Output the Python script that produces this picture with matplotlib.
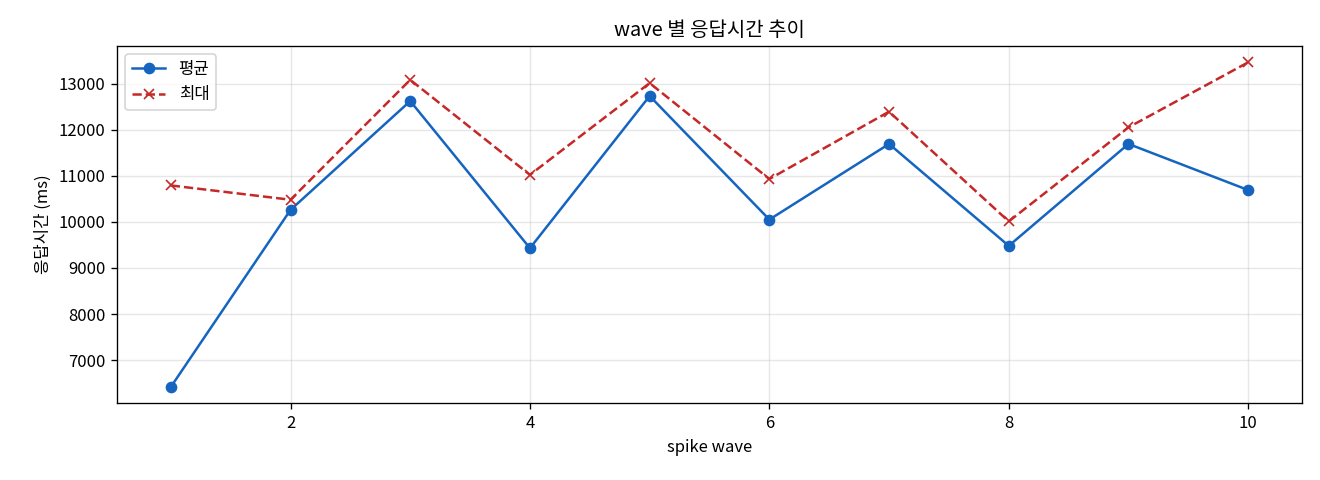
import matplotlib
matplotlib.use('Agg')
import matplotlib.pyplot as plt

plt.rcParams['font.family'] = ['Noto Sans CJK KR', 'DejaVu Sans']
plt.rcParams['axes.unicode_minus'] = False

waves = [1, 2, 3, 4, 5, 6, 7, 8, 9, 10]
avg_ms = [6420, 10260, 12620, 9430, 12730, 10050, 11690, 9480, 11690, 10690]
max_ms = [10790, 10480, 13080, 11020, 13010, 10930, 12390, 10010, 12050, 13460]

fig, ax = plt.subplots(figsize=(11, 4), dpi=120)
ax.plot(waves, avg_ms, marker='o', color='#1565C0', label='평균')
ax.plot(waves, max_ms, marker='x', linestyle='--', color='#C62828', label='최대')
ax.set_title('wave 별 응답시간 추이')
ax.set_xlabel('spike wave')
ax.set_ylabel('응답시간 (ms)')
ax.grid(True, alpha=0.3)
ax.legend(loc='upper left')
# 축 위치를 원본에 맞춤
fig.subplots_adjust(left=0.0886, right=0.9864, top=0.904, bottom=0.160)
fig.savefig('out.png')
